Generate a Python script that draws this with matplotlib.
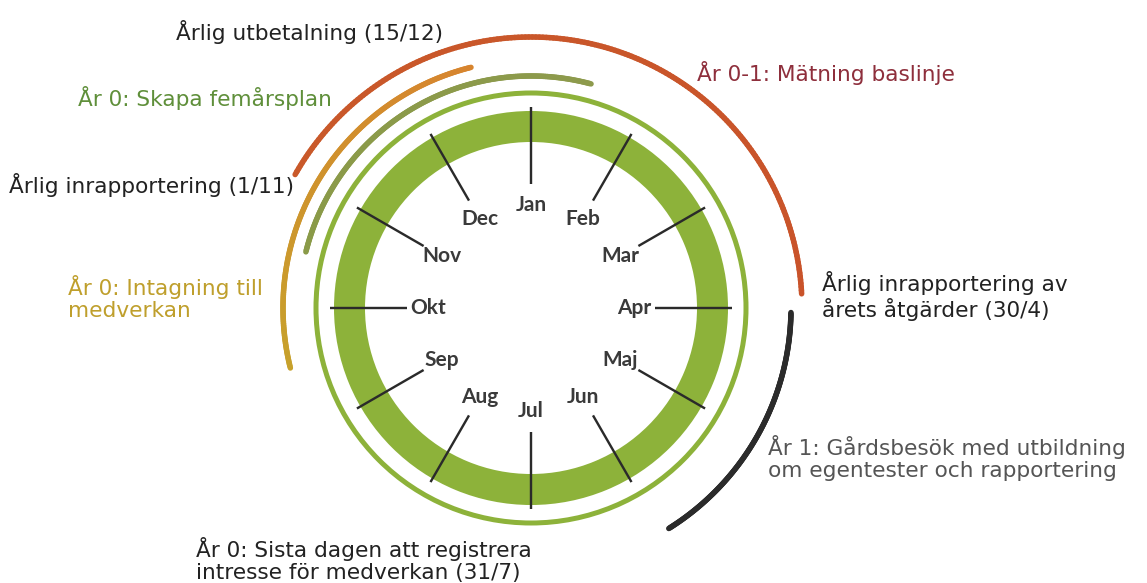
## Year wheel ("årshjul") for the programme timeline
import numpy as np
import matplotlib.pyplot as plt
from matplotlib.patches import Wedge, Circle
from matplotlib.collections import LineCollection

###### DATA ######
months = ['Jan', 'Feb', 'Mar', 'Apr', 'Maj', 'Jun',
          'Jul', 'Aug', 'Sep', 'Okt', 'Nov', 'Dec']
month_angles = [90, 60, 30, 0, -30, -60, -90, -120, -150, -180, -210, -240]

# activity arcs: start angle, end angle (deg, counter clockwise from Apr)
arc_names = ['Mätning baslinje', 'Intagning', 'Femårsplan', 'Gårdsbesök']
arc_start = [3, 104, 75, -58]
arc_end = [150.5, 194, 166, -1]
arc_radius = [271, 248, 232, 260]

labels = ['Årlig utbetalning (15/12)',
          'År 0: Skapa femårsplan',
          'År 0-1: Mätning baslinje',
          'Årlig inrapportering (1/11)',
          'År 0: Intagning till\nmedverkan',
          'Årlig inrapportering av\nårets åtgärder (30/4)',
          'År 1: Gårdsbesök med utbildning\nom egentester och rapportering',
          'År 0: Sista dagen att registrera\nintresse för medverkan (31/7)']
label_x = [176, 78, 697, 9, 68, 822, 768, 196]
label_y = [32, 98, 73, 185, 298, 296, 458, 560]
label_col = ['#222222', '#5f8f3a', '#8e2f3c', '#222222', '#bf9f2c',
             '#222222', '#555555', '#222222']

###### STYLE ######
cx, cy = 531, 308
green = '#8db23a'
px = 0.72  # one pixel in points at dpi 100

fig = plt.figure(figsize=(11.47, 5.83), dpi=100)
ax = fig.add_axes([0, 0, 1, 1])
ax.set_xlim(0, 1147)
ax.set_ylim(583, 0)
ax.axis('off')


def arc_points(r, a0, a1, n=200):
    t = np.radians(np.linspace(a0, a1, n))
    return cx + r*np.cos(t), cy - r*np.sin(t)


# thick ring and thin ring
ax.add_patch(Wedge((cx, cy), 197, 0, 360, width=31, color=green, lw=0))
ax.add_patch(Circle((cx, cy), 215, fill=False, ec=green, lw=5*px))

# month ticks and labels
for name, a in zip(months, month_angles):
    t = np.radians(a)
    ax.plot([cx + 124*np.cos(t), cx + 201*np.cos(t)],
            [cy - 124*np.sin(t), cy - 201*np.sin(t)],
            color='#2a2a2a', lw=2.4*px, solid_capstyle='butt')
    ax.text(cx + 103*np.cos(t), cy - 103*np.sin(t), name, ha='center',
            va='center', fontsize=15, fontweight='bold', family='Lato',
            color='#3a3a3a')

# outer activity arcs
arc_cols = {'Mätning baslinje': ['#c9532a', '#c9592a'],
            'Intagning': ['#d7842e', '#c7a12c'],
            'Femårsplan': ['#8d9a4c', '#8a9a48'],
            'Gårdsbesök': ['#2b2b2b', '#2b2b2b']}
for name, a0, a1, r in zip(arc_names, arc_start, arc_end, arc_radius):
    x, y = arc_points(r, a0, a1)
    pts = np.column_stack([x, y]).reshape(-1, 1, 2)
    segs = np.concatenate([pts[:-1], pts[1:]], axis=1)
    c0, c1 = [np.array(plt.matplotlib.colors.to_rgb(c)) for c in arc_cols[name]]
    f = np.linspace(0, 1, len(segs))[:, None]
    lc = LineCollection(segs, colors=c0*(1-f) + c1*f, linewidths=5.5*px,
                        capstyle='round')
    ax.add_collection(lc)

# annotation texts
for s, x, y, c in zip(labels, label_x, label_y, label_col):
    ax.text(x, y, s, ha='left', va='center', fontsize=15.6,
            family='DejaVu Sans', color=c, linespacing=1.16)

fig.savefig('out.png', dpi=100)
